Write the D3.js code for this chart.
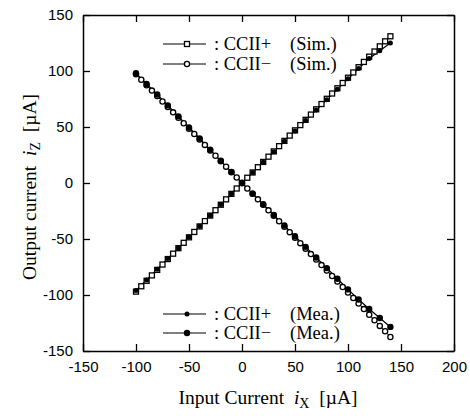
<!DOCTYPE html>
<html>
<head>
<meta charset="utf-8">
<script src="https://cdn.jsdelivr.net/npm/d3@7"></script>
<style>
body { margin:0; background:#fff; }
</style>
</head>
<body>
<div id="chart"></div>
<script>
// input current steps (uA)
var xSim = [-100,-95,-90,-85,-80,-75,-70,-65,-60,-55,-50,-45,-40,-35,-30,-25,-20,-15,-10,-5,
            0,5,10,15,20,25,30,35,40,45,50,55,60,65,70,75,80,85,90,95,100,105,110,115,120,125,130,135,140];
var simPlus = [-97,-92.2,-87.3,-82.5,-77.6,-72.8,-67.9,-63.1,-58.2,-53.4,-48.5,-43.7,-38.8,-34,-29.1,-24.3,-19.4,-14.6,-9.7,-4.9,
               0,4.7,9.4,14.1,18.8,23.5,28.2,32.9,37.6,42.3,47,51.7,56.4,61.1,65.8,70.5,75.2,79.9,84.6,89.3,94,98.7,103.4,108.1,112.8,117.4,122,126.5,131];
var simMinus = [97,92.2,87.3,82.5,77.6,72.8,67.9,63.1,58.2,53.4,48.5,43.7,38.8,34,29.1,24.3,19.4,14.6,9.7,4.9,
                0,-4.9,-9.7,-14.6,-19.5,-24.4,-29.3,-34.2,-39,-43.9,-48.8,-53.7,-58.6,-63.5,-68.4,-73.3,-78.2,-83.1,-88,-92.9,-97.8,-102.7,-107.6,-112.6,-117.6,-122.6,-127.6,-132.4,-137.5];
var xMea = [-100,-90,-80,-70,-60,-50,-40,-30,-20,-10,0,10,20,30,40,50,60,70,80,90,100,110,120,130,140];
var meaPlus = [-96,-86.5,-77,-67.5,-58,-48.3,-38.6,-29,-19.3,-9.6,0,9.3,18.6,27.9,37.2,46.5,55.8,65.1,74.4,83.7,93,102.2,111.2,118,125];
var meaMinus = [98,88.5,79,69.3,59.5,49.6,39.7,29.8,19.8,9.9,0,-9.5,-19,-28.5,-38,-47.5,-57,-66.5,-76,-85.5,-95,-104,-112.5,-120.5,-128.5];
var xTicks = [-150,-100,-50,0,50,100,150,200];
var yTicks = [-150,-100,-50,0,50,100,150];

var W = 470, H = 416;
var margin = {top: 15, right: 16, bottom: 65, left: 83},
    width = W - margin.left - margin.right,
    height = H - margin.top - margin.bottom;

var svg = d3.select("#chart").append("svg")
    .attr("width", W).attr("height", H)
  .append("g")
    .attr("transform", "translate(" + margin.left + "," + margin.top + ")");

var x = d3.scaleLinear().domain([-150, 200]).range([0, width]);
var y = d3.scaleLinear().domain([-150, 150]).range([height, 0]);
var plain = function(d) { return String(d); };

// axes, ticks pointing inward on all four sides
var ax = svg.append("g").attr("transform", "translate(0," + height + ")")
  .call(d3.axisBottom(x).tickValues(xTicks).tickSizeInner(-7).tickSizeOuter(0).tickPadding(10).tickFormat(plain));
var axT = svg.append("g")
  .call(d3.axisTop(x).tickValues(xTicks).tickSizeInner(-7).tickSizeOuter(0).tickFormat(""));
var ay = svg.append("g")
  .call(d3.axisLeft(y).tickValues(yTicks).tickSizeInner(-7).tickSizeOuter(0).tickPadding(10).tickFormat(plain));
var ayR = svg.append("g").attr("transform", "translate(" + width + ",0)")
  .call(d3.axisRight(y).tickValues(yTicks).tickSizeInner(-7).tickSizeOuter(0).tickFormat(""));

[ax, axT, ay, ayR].forEach(function(a) {
  a.select(".domain").attr("stroke", "#000").attr("stroke-width", 1.5);
  a.selectAll(".tick line").attr("stroke", "#000").attr("stroke-width", 1.3);
  a.selectAll(".tick text")
    .attr("font-size", 15)
    .attr("font-family", "Liberation Sans, Arial, sans-serif")
    .attr("fill", "#000");
});

var line = function(xs) {
  return d3.line().x(function(d, i) { return x(xs[i]); }).y(function(d) { return y(d); });
};

// connecting lines
svg.append("path").datum(simPlus).attr("fill", "none").attr("stroke", "#000")
  .attr("stroke-width", 1).attr("d", line(xSim));
svg.append("path").datum(simMinus).attr("fill", "none").attr("stroke", "#000")
  .attr("stroke-width", 1).attr("d", line(xSim));
svg.append("path").datum(meaPlus).attr("fill", "none").attr("stroke", "#000")
  .attr("stroke-width", 1.2).attr("d", line(xMea));
svg.append("path").datum(meaMinus).attr("fill", "none").attr("stroke", "#000")
  .attr("stroke-width", 1.2).attr("d", line(xMea));

// markers
svg.selectAll(".sq").data(simPlus).enter().append("rect")
  .attr("x", function(d, i) { return x(xSim[i]) - 2.5; })
  .attr("y", function(d) { return y(d) - 2.5; })
  .attr("width", 5).attr("height", 5)
  .attr("fill", "#fff").attr("stroke", "#000").attr("stroke-width", 1.3);
svg.selectAll(".oc").data(simMinus).enter().append("circle")
  .attr("cx", function(d, i) { return x(xSim[i]); })
  .attr("cy", function(d) { return y(d); })
  .attr("r", 2.6)
  .attr("fill", "#fff").attr("stroke", "#000").attr("stroke-width", 1.3);
svg.selectAll(".fp").data(meaPlus).enter().append("circle")
  .attr("cx", function(d, i) { return x(xMea[i]); })
  .attr("cy", function(d) { return y(d); })
  .attr("r", 2.5).attr("fill", "#000");
svg.selectAll(".fm").data(meaMinus).enter().append("circle")
  .attr("cx", function(d, i) { return x(xMea[i]); })
  .attr("cy", function(d) { return y(d); })
  .attr("r", 3.2).attr("fill", "#000");

// legends
var serif = "Liberation Serif, Times New Roman, serif";
function legendRow(ly, type, label, tag) {
  var g = svg.append("g");
  var lx0 = 163 - margin.left, lx1 = 206 - margin.left, mx = 187 - margin.left;
  var py = ly - margin.top;
  g.append("line").attr("x1", lx0).attr("x2", lx1).attr("y1", py).attr("y2", py)
    .attr("stroke", "#000").attr("stroke-width", 1);
  if (type === "sq") g.append("rect").attr("x", mx - 2.5).attr("y", py - 2.5).attr("width", 5).attr("height", 5)
    .attr("fill", "#fff").attr("stroke", "#000").attr("stroke-width", 1.3);
  if (type === "oc") g.append("circle").attr("cx", mx).attr("cy", py).attr("r", 2.6)
    .attr("fill", "#fff").attr("stroke", "#000").attr("stroke-width", 1.3);
  if (type === "fp") g.append("circle").attr("cx", mx).attr("cy", py).attr("r", 2.5).attr("fill", "#000");
  if (type === "fm") g.append("circle").attr("cx", mx).attr("cy", py).attr("r", 3.2).attr("fill", "#000");
  g.append("text").attr("x", 214 - margin.left).attr("y", py + 6)
    .attr("font-family", serif).attr("font-size", 18.5).text(label);
  g.append("text").attr("x", 290 - margin.left).attr("y", py + 6)
    .attr("font-family", serif).attr("font-size", 18.5).text(tag);
}
legendRow(44, "sq", ": CCII+", "(Sim.)");
legendRow(64, "oc", ": CCII\u2212", "(Sim.)");
legendRow(314, "fp", ": CCII+", "(Mea.)");
legendRow(333, "fm", ": CCII\u2212", "(Mea.)");

// axis titles
var root = d3.select("svg");
var xt = root.append("text").attr("x", 268).attr("y", 404).attr("text-anchor", "middle")
  .attr("font-family", serif).attr("font-size", 19.5);
xt.append("tspan").text("Input Current\u00a0\u00a0");
xt.append("tspan").attr("font-style", "italic").text("i");
xt.append("tspan").attr("font-size", 14).attr("dy", 4).text("X");
xt.append("tspan").attr("dy", -4).text("\u00a0\u00a0[\u00b5A]");

var yt = root.append("text").attr("transform", "translate(36,187) rotate(-90)").attr("text-anchor", "middle")
  .attr("font-family", serif).attr("font-size", 19.5);
yt.append("tspan").text("Output current\u00a0\u00a0");
yt.append("tspan").attr("font-style", "italic").text("i");
yt.append("tspan").attr("font-size", 14).attr("dy", 4).text("Z");
yt.append("tspan").attr("dy", -4).text("\u00a0\u00a0[\u00b5A]");
</script>
</body>
</html>
